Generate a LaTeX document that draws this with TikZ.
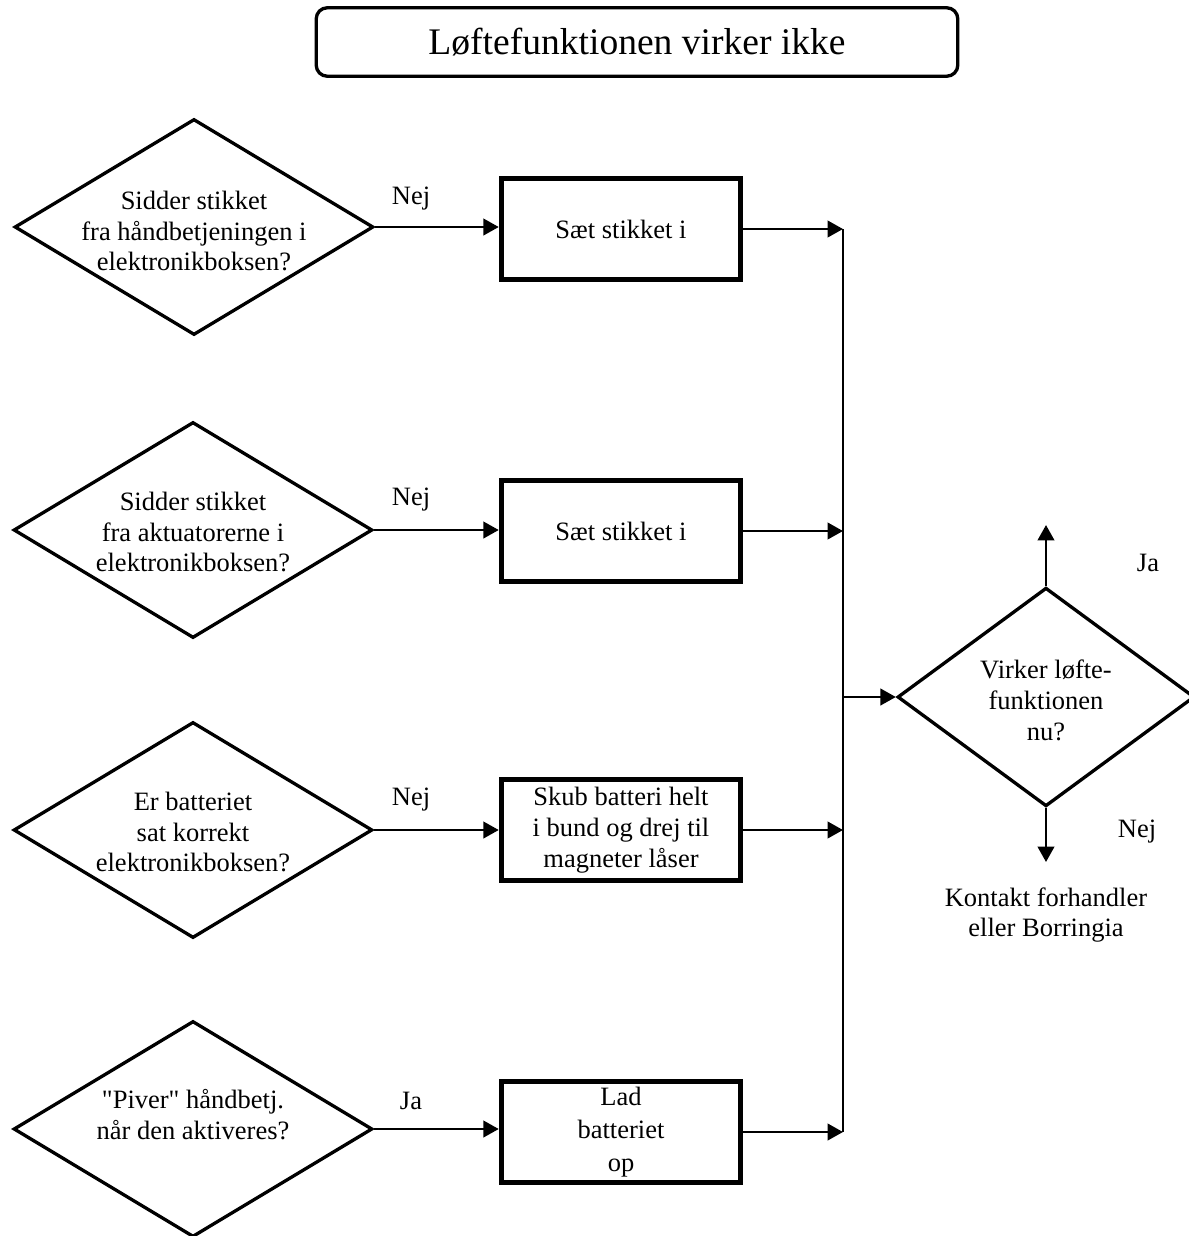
\documentclass[tikz,border=0pt]{standalone}
\usepackage{fontspec}
\setmainfont{Liberation Serif}[Ligatures=TeXOff]
\usetikzlibrary{arrows.meta,shapes.geometric}
\tikzset{
	thick,
	>={Triangle[length=7pt,width=7.5pt]},
}

\begin{document}
\begin{tikzpicture}[x=0.4528pt,y=-0.4528pt,line width=1.15pt,
    font=\fontsize{12}{14}\selectfont]
    \tikzset{block/.style={draw, rectangle, line width=2.2pt, align=center, inner sep=0pt, minimum width=108.5pt, minimum height=46pt},
      title/.style={draw, rectangle, rounded corners=5pt, line width=1.5pt, minimum width=290.5pt, minimum height=31pt, font=\fontsize{17}{20}\selectfont},
      decision/.style={draw, diamond, line width=1.5pt, inner sep=0pt, minimum width=162.5pt, minimum height=97.8pt},
      qtext/.style={align=center, inner sep=0pt},
      lbl/.style={inner sep=0pt},
    }
    \useasboundingbox (0,0) rectangle (1189,1236);

    \node[title] at (637,42) (head) {Løftefunktionen virker ikke};

    % decisions on the left
    \node[decision] at (194,227) (q1) {};
    \node[qtext] at (194,231) (q1t) {Sidder stikket\\fra håndbetjeningen i\\elektronikboksen?};
    \node[decision] at (193,530) (q2) {};
    \node[qtext] at (193,532) (q2t) {Sidder stikket\\fra aktuatorerne i\\elektronikboksen?};
    \node[decision] at (193,830) (q3) {};
    \node[qtext] at (193,832) (q3t) {Er batteriet\\sat korrekt\\elektronikboksen?};
    \node[decision] at (193,1129) (q4) {};
    \node[qtext] at (193,1115) (q4t) {"Piver" håndbetj.\\når den aktiveres?};

    % actions
    \node[block] at (621,229) (a1) {Sæt stikket i};
    \node[block] at (621,531) (a2) {Sæt stikket i};
    \node[block] at (621,830) (a3) {Skub batteri helt\\i bund og drej til\\magneter låser};
    \node[block, font=\fontsize{12}{15}\selectfont] at (621,1132) (a4) {Lad\\batteriet\\op};

    \node[lbl] at (411,199) (n1) {Nej};
    \node[lbl] at (411,500) (n2) {Nej};
    \node[lbl] at (411,800) (n3) {Nej};
    \node[lbl] at (411,1101) (n4) {Ja};

    \coordinate (j1) at (843,229);
    \coordinate (j2) at (843,531);
    \coordinate (j3) at (843,830);
    \coordinate (j4) at (843,1132);
    \coordinate (jm) at (843,697);

    % check on the right
    \node[decision, minimum width=134.5pt, minimum height=99pt] at (1046,697) (chk) {};
    \node[qtext] at (1046,700) (chkt) {Virker løfte-\\funktionen\\nu?};
    \coordinate (up) at (1046,525);
    \coordinate (down) at (1046,862);
    \node[lbl] at (1148,563) (ja) {Ja};
    \node[lbl] at (1137,832) (nej) {Nej};
    \node[qtext] at (1046,915) (dealer) {Kontakt forhandler\\eller Borringia};

    \path[draw,->] (q1.east) -- (a1.west |- q1.east);
    \path[draw,->] (q2.east) -- (a2.west |- q2.east);
    \path[draw,->] (q3.east) -- (a3.west |- q3.east);
    \path[draw,->] (q4.east) -- (a4.west |- q4.east);
    \path[draw,->] (a1) -- (j1);
    \path[draw,->] (a2) -- (j2);
    \path[draw,->] (a3) -- (j3);
    \path[draw,->] (a4) -- (j4);
    \path[draw] (j1) -- (j4);
    \path[draw,->] (jm) -- (chk.west);
    \path[draw,->] (chk.north) -- (up);
    \path[draw,->] (chk.south) -- (down);
  \end{tikzpicture}
\end{document}
